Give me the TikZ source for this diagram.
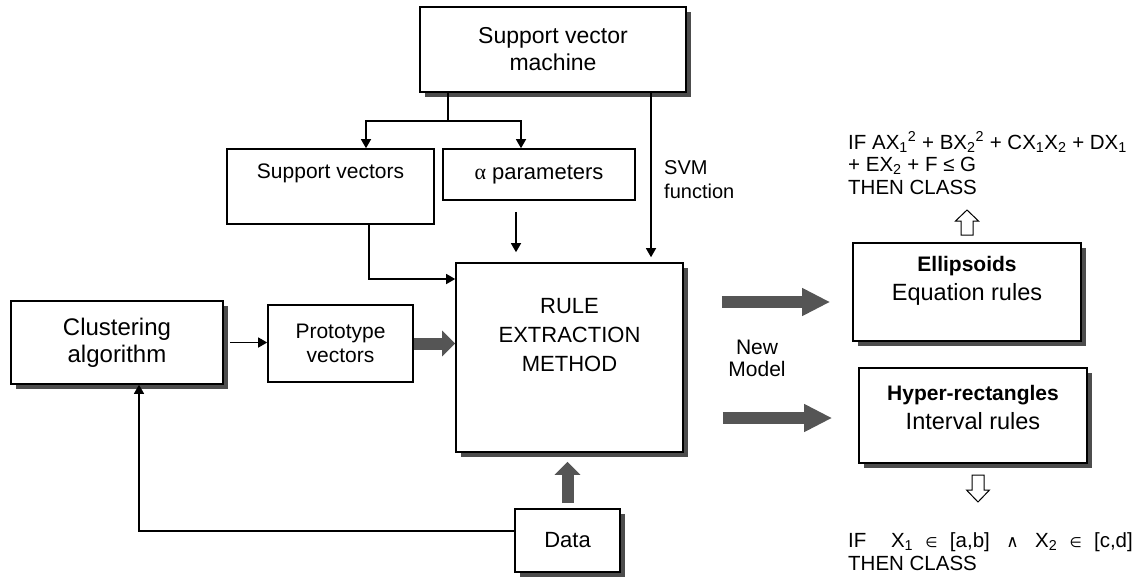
\documentclass[tikz,border=0pt]{standalone}
\usepackage{fontspec}
\setmainfont{Liberation Sans}
\newfontfamily\symf{DejaVu Sans}
\newfontfamily\grk{Liberation Serif}
\usetikzlibrary{arrows.meta,shadows,calc}
\definecolor{shadowc}{RGB}{77,77,77}
\definecolor{thickc}{RGB}{85,85,85}
\tikzset{
 box/.style={draw=black, line width=1.6pt, fill=white, inner sep=0pt, align=center},
 sbox/.style={box, drop shadow={shadow xshift=5pt, shadow yshift=-5pt, opacity=1, fill=shadowc}},
 conn/.style={line width=1.3pt, -{Triangle[length=9pt,width=10pt]}},
 fat/.style={line width=12pt, draw=thickc, -{Triangle[length=28pt,width=26pt]}},
 fatshort/.style={line width=12pt, draw=thickc, -{Triangle[length=13pt,width=25pt]}},
 openarr/.style={draw=black, line width=1pt, fill=white},
 txt/.style={inner sep=0pt, align=center},
}
\newcommand\smsym[2]{{\symf\fontsize{#1}{#1}\selectfont #2}}
\begin{document}
\begin{tikzpicture}[x=1pt,y=-1pt]
\useasboundingbox (0,0) rectangle (1148,579);

% boxes
\node[sbox, minimum width=266pt, minimum height=85pt, font=\fontsize{23}{27}\selectfont] (svm) at (553,49.5) {Support vector\\machine};
\node[box, minimum width=207pt, minimum height=75pt] (sv) at (330.5,186.5) {};
\node[txt, font=\fontsize{21}{25}\selectfont] (svt) at (330.5,173) {Support vectors};
\node[box, minimum width=192pt, minimum height=51pt, font=\fontsize{22}{25}\selectfont] (alpha) at (539,174.5) {{\grk α} parameters};
\node[sbox, minimum width=227pt, minimum height=189pt] (rule) at (569.5,357.5) {};
\node[txt, font=\fontsize{22}{29}\selectfont] (rulet) at (569.5,335) {RULE\\EXTRACTION\\METHOD};
\node[sbox, minimum width=212pt, minimum height=83pt, font=\fontsize{24}{27}\selectfont] (clust) at (117,342.5) {Clustering\\algorithm};
\node[box, minimum width=145pt, minimum height=77pt, font=\fontsize{21}{24}\selectfont] (proto) at (340.5,343.5) {Prototype\\vectors};
\node[sbox, minimum width=105pt, minimum height=63pt, font=\fontsize{22}{26}\selectfont] (data) at (567.5,540.5) {Data};
\node[sbox, minimum width=228pt, minimum height=98pt] (ell) at (967,292) {};
\node[txt, font=\fontsize{23.5}{29}\selectfont] (ellt) at (967,281) {{\fontsize{21}{21}\selectfont\bfseries Ellipsoids}\\Equation rules};
\node[sbox, minimum width=228pt, minimum height=95pt] (hyp) at (973,415.5) {};
\node[txt, font=\fontsize{23.5}{29}\selectfont] (hypt) at (973,407) {{\fontsize{21}{21}\selectfont\bfseries Hyper-rectangles}\\Interval rules};

% labels
\begin{scope}
\clip (600,150) rectangle (760,198);
\node[txt, align=left, anchor=north west, font=\fontsize{20}{24}\selectfont] (svmf) at (664,160) {SVM\\function};
\end{scope}
\node[txt, font=\fontsize{21}{22}\selectfont] (nm) at (757,358) {New\\Model};
\node[txt, align=left, anchor=base west, font=\fontsize{20.5}{22.5}\selectfont] (f1) at (848,194)
 {IF AX\textsubscript{1}\textsuperscript{2} + BX\textsubscript{2}\textsuperscript{2} + CX\textsubscript{1}X\textsubscript{2} + DX\textsubscript{1}\\
  + EX\textsubscript{2} + F ≤ G\\THEN CLASS};
\node[txt, align=left, anchor=base west, font=\fontsize{20.5}{23}\selectfont] (f2) at (848,570)
 {IF\hspace{1.2em}X\textsubscript{1}\hspace{0.6em}\smsym{14}{∈}\hspace{0.6em}[a,b]\hspace{0.8em}\smsym{17}{∧}\hspace{0.8em}X\textsubscript{2}\hspace{0.6em}\smsym{14}{∈}\hspace{0.6em}[c,d]\\THEN CLASS};

% connectors
\coordinate (br) at (448,121);
\draw[line width=1.3pt] (br |- svm.south) -- (br);
\draw[conn] (br) -| (366,0 |- sv.north);
\draw[conn] (br) -| (521,0 |- alpha.north);
\draw[conn] ($(alpha.south)+(-23,11)$) -- ($(rule.north)+(-53.5,-10)$);
\draw[conn, shorten >=5pt] (651,0 |- svm.south) -- (651,0 |- rule.north);
\draw[conn] (369,0 |- sv.south) |- (rule.west |- 0,279);
\draw[conn] ($(clust.east)+(6,0)$) -- (proto.west |- clust.east);
\draw[conn] (data.west |- 0,531) -| (139,0 |- clust.south);

% thick arrows
\draw[fatshort] (proto.east) -- (rule.west |- proto.east);
\draw[fatshort] ($(data.north)+(0,-5)$) -- ($(data.north |- rule.south)+(0,9)$);
\draw[fat] ($(rule.east)+(38,-55.5)$) -- ($(ell.west)+(-22,10)$);
\draw[fat] ($(rule.east)+(39,60.5)$) -- ($(hyp.west)+(-26,2.5)$);

% open arrows
\draw[openarr] (961,235) -- (961,221) -- (955.5,221) -- (967,210) -- (978.5,221) -- (973,221) -- (973,235) -- cycle;
\draw[openarr] (972,475) -- (972,490) -- (966.5,490) -- (978,502) -- (989.5,490) -- (984,490) -- (984,475) -- cycle;
\end{tikzpicture}
\end{document}
